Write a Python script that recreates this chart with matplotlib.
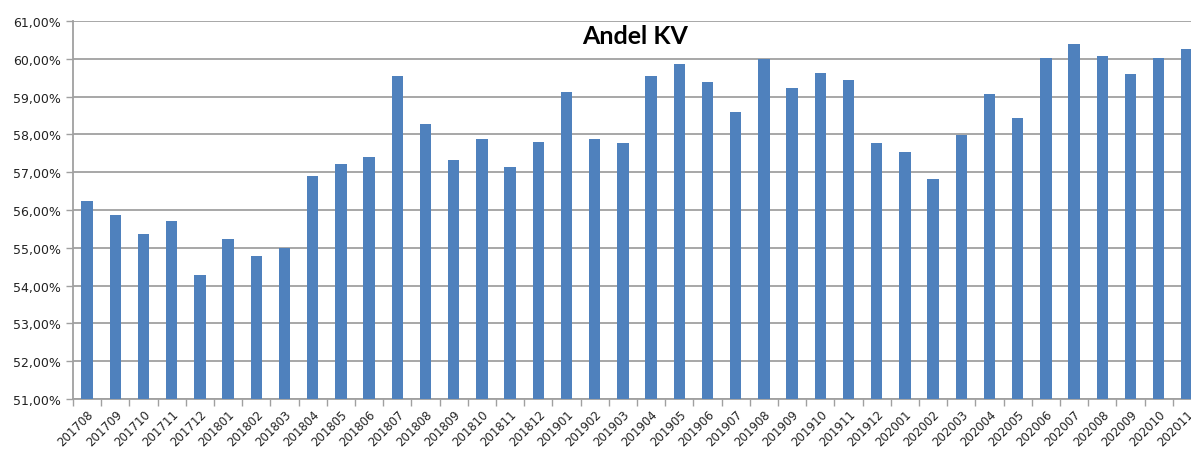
import matplotlib
matplotlib.use("Agg")
import matplotlib.pyplot as plt
import numpy as np
from matplotlib.ticker import FuncFormatter, FixedLocator

categories = ["201708", "201709", "201710", "201711", "201712",
              "201801", "201802", "201803", "201804", "201805", "201806",
              "201807", "201808", "201809", "201810", "201811", "201812",
              "201901", "201902", "201903", "201904", "201905", "201906",
              "201907", "201908", "201909", "201910", "201911", "201912",
              "202001", "202002", "202003", "202004", "202005", "202006",
              "202007", "202008", "202009", "202010", "202011"]
values = [56.23, 55.87, 55.36, 55.72, 54.28,
          55.23, 54.77, 54.99, 56.90, 57.22, 57.41,
          59.55, 58.28, 57.33, 57.89, 57.14, 57.81,
          59.11, 57.89, 57.77, 59.55, 59.87, 59.39,
          58.59, 59.99, 59.24, 59.63, 59.44, 57.76,
          57.53, 56.81, 57.98, 59.07, 58.44, 60.03,
          60.39, 60.07, 59.59, 60.03, 60.27]
title = "Andel KV"

W, H = 1191, 452
fig = plt.figure(figsize=(W / 100, H / 100), dpi=100)
ax = fig.add_axes([73 / W, 1 - 400 / H, (W - 73) / W, (400 - 22) / H])

x = np.arange(len(categories))
ax.bar(x, values, width=0.41, color="#4F81BD", zorder=3, bottom=0)
ax.set_ylim(51, 61)
ax.set_xlim(-0.5, (W - 73) / 28.2 - 0.5)

ax.set_yticks(np.arange(51, 61.01, 1))
ax.yaxis.set_major_formatter(FuncFormatter(lambda v, p: f"{v:.2f}".replace(".", ",") + "%"))
ax.grid(axis="y", color="#a0a0a0", linewidth=1.3, zorder=0)
ax.set_axisbelow(True)

ax.set_xticks(x)
ax.set_xticklabels(categories, rotation=45, ha="right", rotation_mode="anchor",
                   fontsize=8.5, color="#222222")
ax.tick_params(axis="x", which="major", length=0, pad=6)
ax.xaxis.set_minor_locator(FixedLocator(np.arange(-0.5, len(categories), 1)))
ax.tick_params(axis="x", which="minor", length=5, color="#a0a0a0", width=1)
ax.tick_params(axis="y", length=5, color="#a0a0a0", width=1, labelsize=9,
               labelcolor="#222222", pad=4)

for s in ["top", "right"]:
    ax.spines[s].set_visible(False)
for s in ["left", "bottom"]:
    ax.spines[s].set_color("#a0a0a0")
    ax.spines[s].set_linewidth(1.3)

fig.text(635 / W, 1 - 37 / H, title, ha="center", va="center",
         fontsize=18, fontweight="bold", family=["Lato", "DejaVu Sans"])

fig.savefig("out.png", dpi=100)
